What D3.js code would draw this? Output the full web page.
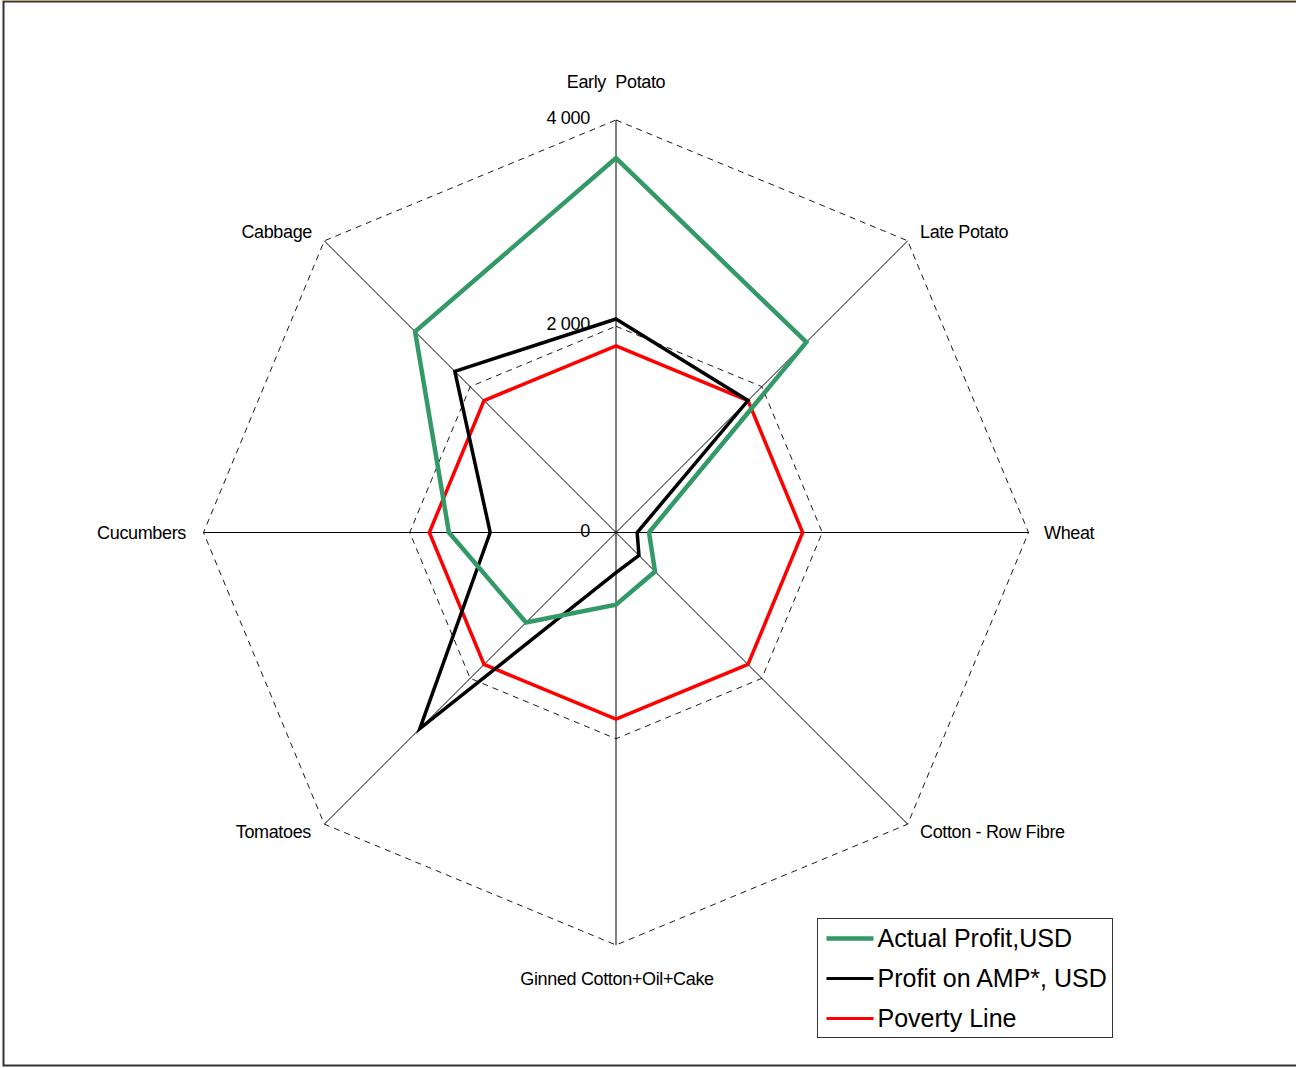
<!DOCTYPE html>
<html>
<head>
<meta charset="utf-8">
<script src="https://cdn.jsdelivr.net/npm/d3@7"></script>
<style>
  body { margin: 0; background: #fff; }
  svg { display: block; font-family: "Liberation Sans", Arial, sans-serif; }
</style>
</head>
<body>
<svg id="chart" width="1296" height="1068"></svg>
<script>
// categories clockwise from top
const categories = ["Early  Potato", "Late Potato", "Wheat", "Cotton - Row Fibre",
  "Ginned Cotton+Oil+Cake", "Tomatoes", "Cucumbers", "Cabbage"];
const actualProfit = [3630, 2610, 320, 535, 700, 1235, 1620, 2755];
const profitAMP = [2070, 1810, 205, 315, 390, 2690, 1220, 2210];
const povertyLine = [1810, 1810, 1810, 1810, 1810, 1810, 1810, 1810];
const ringValues = [2000, 4000];
const tickValues = [0, 2000, 4000];
const seriesNames = ["Actual Profit,USD", "Profit on AMP*, USD", "Poverty Line"];
const seriesColors = ["#339966", "#000000", "#ff0000"];

const d3svg = d3.select("#chart");
const cx = 616, cy = 532.5, R = 412.5;

// outer frame
d3svg.append("rect")
  .attr("x", 3.5).attr("y", 1.5).attr("width", 1300).attr("height", 1064)
  .attr("fill", "none").attr("stroke", "#333").attr("stroke-width", 2);
d3svg.append("line").attr("x1", 3).attr("x2", 1296).attr("y1", 0.5).attr("y2", 0.5)
  .attr("stroke", "#c9a87a").attr("stroke-width", 1);

const r = d3.scaleLinear().domain([0, 4000]).range([0, R]);
const angle = d3.scaleLinear().domain([0, categories.length]).range([0, 2 * Math.PI]);

const g = d3svg.append("g").attr("transform", `translate(${cx},${cy})`);

const pt = (v, i) => [r(v) * Math.sin(angle(i)), -r(v) * Math.cos(angle(i))];

// axis spokes
g.selectAll(".spoke").data(categories).enter().append("line")
  .attr("x1", 0).attr("y1", 0)
  .attr("x2", (d, i) => pt(4000, i)[0])
  .attr("y2", (d, i) => pt(4000, i)[1])
  .attr("stroke", "#000").attr("stroke-width", 1);

// dashed rings
const ringLine = d3.line();
g.selectAll(".ring").data(ringValues).enter().append("path")
  .attr("d", v => ringLine(categories.map((c, i) => pt(v, i))) + "Z")
  .attr("fill", "none").attr("stroke", "#000").attr("stroke-width", 0.9)
  .attr("stroke-dasharray", "6,5");

// tick labels
g.selectAll(".tick").data(tickValues).enter().append("text")
  .attr("x", -26).attr("y", v => -r(v) + 4)
  .attr("text-anchor", "end")
  .attr("font-size", 18).attr("letter-spacing", -0.3)
  .text(v => v === 0 ? "0" : d3.format(",")(v).replace(",", " "));

// category labels
const labelPos = [
  [0, -445, "middle"], [304, -295, "start"], [428, 6, "start"], [304, 305, "start"],
  [1, 452, "middle"], [-305, 305, "end"], [-430, 6, "end"], [-304, -295, "end"]
];
g.selectAll(".cat").data(categories).enter().append("text")
  .attr("x", (d, i) => labelPos[i][0])
  .attr("y", (d, i) => labelPos[i][1])
  .attr("text-anchor", (d, i) => labelPos[i][2])
  .attr("font-size", 18).attr("letter-spacing", -0.35)
  .style("white-space", "pre")
  .text(d => d);

// series
const series = [actualProfit, profitAMP, povertyLine];
const widths = [4.5, 3.5, 3.5];
[2, 1, 0].forEach(k => {
  g.append("path")
    .attr("d", ringLine(series[k].map((v, i) => pt(v, i))) + "Z")
    .attr("fill", "none")
    .attr("stroke", seriesColors[k])
    .attr("stroke-width", widths[k])
    .attr("stroke-linejoin", "miter");
});

// legend
const lg = d3svg.append("g").attr("transform", "translate(817.5,918.5)");
lg.append("rect").attr("width", 295).attr("height", 119)
  .attr("fill", "#fff").attr("stroke", "#333").attr("stroke-width", 1);
seriesNames.forEach((name, k) => {
  const y = 20 + k * 40;
  lg.append("line").attr("x1", 9).attr("x2", 56).attr("y1", y).attr("y2", y)
    .attr("stroke", seriesColors[k]).attr("stroke-width", k === 0 ? 4.5 : 3);
  lg.append("text").attr("x", 60).attr("y", y + 8)
    .attr("font-size", 25).text(name);
});
</script>
</body>
</html>
